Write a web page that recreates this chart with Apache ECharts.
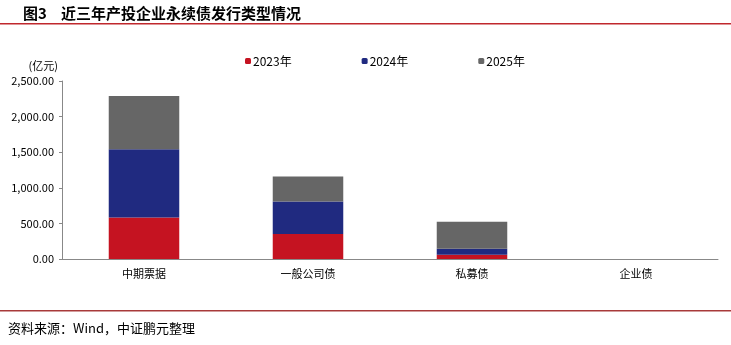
<!DOCTYPE html>
<html>
<head>
<meta charset="utf-8">
<script src="https://cdn.jsdelivr.net/npm/echarts@6/dist/echarts.min.js"></script>
<style>
  html, body { margin: 0; padding: 0; background: #fff; }
  #chart { width: 731px; height: 345px; }
</style>
</head>
<body>
<div id="chart"></div>
<script>
// 数据
const categories = ["中期票据", "一般公司债", "私募债", "企业债"];
const seriesNames = ["2023年", "2024年", "2025年"];
const data2023 = [583, 350, 60, 0];
const data2024 = [959, 458, 84, 0];
const data2025 = [748, 350, 379, 0];
const colors = ["#C51321", "#202A80", "#666666"];

const chart = echarts.init(document.getElementById("chart"));
const font = "'Noto Sans CJK SC', 'DejaVu Sans', sans-serif";

const allData = [data2023, data2024, data2025];
const series = seriesNames.map((name, i) => ({
  name: name,
  type: "bar",
  stack: "total",
  barWidth: "43%",
  data: allData[i],
  itemStyle: { color: colors[i] },
}));

const option = {
  animation: false,
  textStyle: { fontFamily: font },
  title: {
    text: "{a|图3}{b|近三年产投企业永续债发行类型情况}",
    left: 18,
    top: 1,
    textStyle: {
      rich: {
        a: { fontSize: 15, fontWeight: "bold", color: "#000", fontFamily: font, width: 38 },
        b: { fontSize: 15, fontWeight: "bold", color: "#000", fontFamily: font },
      },
    },
  },
  legend: {
    data: seriesNames,
    top: 50,
    left: 240,
    itemWidth: 6,
    itemHeight: 6,
    itemGap: 70,
    textStyle: { fontSize: 12, color: "#000", padding: [0, 0, 0, -3] },
  },
  grid: {
    left: 62,
    right: 13,
    top: 81,
    bottom: 86,
  },
  xAxis: {
    type: "category",
    data: categories,
    axisLine: { lineStyle: { color: "#888" } },
    axisTick: { show: false },
    axisLabel: { fontSize: 11, color: "#000", margin: 9 },
  },
  yAxis: {
    type: "value",
    name: "(亿元)",
    nameLocation: "end",
    nameGap: 10,
    nameTextStyle: { fontSize: 11, color: "#000", align: "right", padding: [0, 4, 0, 0] },
    min: 0,
    max: 2500,
    interval: 500,
    splitLine: { show: false },
    axisLine: { show: true, lineStyle: { color: "#888" } },
    axisTick: { show: true, length: 3, lineStyle: { color: "#888" } },
    axisLabel: {
      fontSize: 11,
      color: "#000",
      margin: 8,
      formatter: (v) =>
        v.toLocaleString("en-US", { minimumFractionDigits: 2, maximumFractionDigits: 2 }),
    },
  },
  graphic: [
    {
      type: "rect",
      shape: { x: 0, y: 23, width: 731, height: 1.5 },
      style: { fill: "#C0282D" },
    },
    {
      type: "rect",
      shape: { x: 0, y: 310, width: 731, height: 1.5 },
      style: { fill: "#A83A3A" },
    },
    {
      type: "text",
      left: 8,
      top: 322,
      style: {
        text: "资料来源：Wind，中证鹏元整理",
        fontSize: 13,
        fill: "#000",
        fontFamily: font,
      },
    },
  ],
  series: series,
};

chart.setOption(option);
</script>
</body>
</html>
